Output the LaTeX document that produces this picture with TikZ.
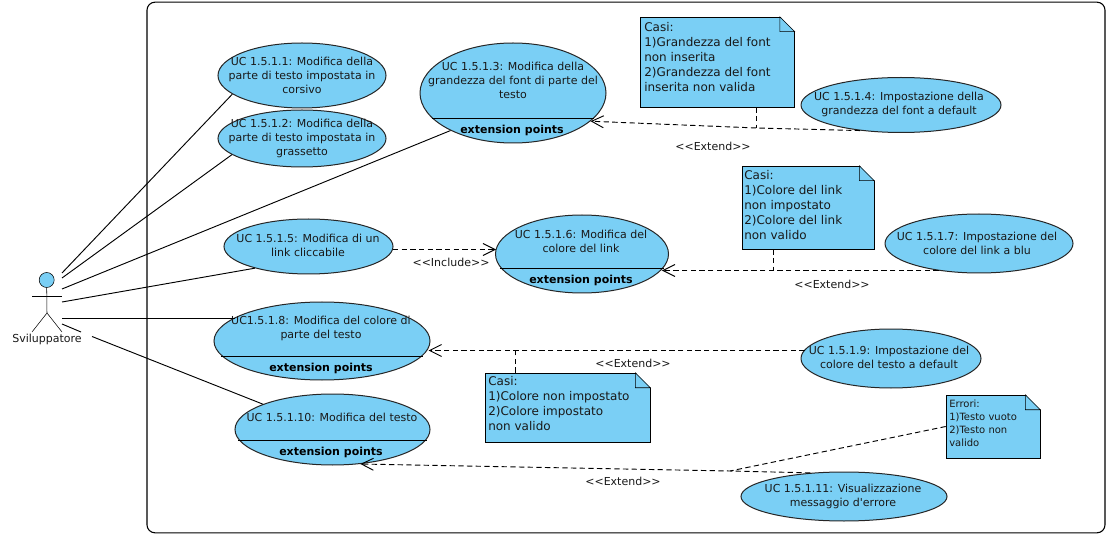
\documentclass[tikz,border=0pt]{standalone}
\usepackage{fontspec}
\setmainfont{DejaVu Sans}
\usetikzlibrary{shapes.geometric,arrows.meta}
\definecolor{ucblue}{RGB}{122,207,245}
\tikzset{
  x=0.75pt,y=-0.75pt,
  line width=0.75pt,
  uc/.style={ellipse,draw=black!85,fill=ucblue,inner sep=0pt,line width=0.75pt},
  uctext/.style={font=\fontsize{8.25}{10.5}\selectfont,align=center,inner sep=0pt,text=black!90},
  extpts/.style={font=\fontsize{8.25}{10.5}\selectfont\bfseries,inner sep=0pt},
  notebox/.style={draw=black,fill=ucblue,rectangle,inner sep=0pt},
  notetext/.style={font=\fontsize{9}{11.25}\selectfont,align=left,anchor=north west,inner sep=0pt,text=black!90},
  smallnotetext/.style={font=\fontsize{7.5}{9.75}\selectfont,align=left,anchor=north west,inner sep=0pt,text=black!90},
  rel/.style={font=\fontsize{8.25}{10.5}\selectfont,inner sep=0pt,text=black!90},
  assoc/.style={draw=black,line width=0.7pt},
  depline/.style={draw=black,dash pattern=on 4pt off 2.5pt,line width=0.7pt},
  opentip/.style={-{Straight Barb[length=9pt,width=9pt,line width=0.7pt]}},
}
\begin{document}
\begin{tikzpicture}
\useasboundingbox (0,0) rectangle (1110,538);
\fill[white] (0,0) rectangle (1110,538);
% system frame
\node[draw=black,rounded corners=6pt,minimum width=718.5pt,minimum height=398pt,inner sep=0pt,line width=0.8pt] (frame) at (626,267.5) {};
% actor
\node[circle,draw=black,fill=ucblue,minimum size=11.25pt,inner sep=0pt] (head) at (46.7,280) {};
\coordinate (neck) at (47,287.5);
\coordinate (hip) at (47,313);
\coordinate (armL) at (32,296);
\coordinate (armR) at (62,296);
\coordinate (footL) at (32,332);
\coordinate (footR) at (62,332);
\draw (head.south) -- (hip) -- (footL);
\draw (hip) -- (footR);
\draw (armL) -- (armR);
\node[uctext] (actorname) at (47,339) {Sviluppatore};
% compartment line levels
\coordinate (c3) at (513,118.5);
\coordinate (c6) at (582,268.5);
\coordinate (c8) at (322,356.5);
\coordinate (c10) at (332,440.5);
% use cases
\node[uc,minimum width=126pt,minimum height=48.75pt] (e1) at (302,75.5) {};
\node[uctext] (t1) at (302,75.5) {UC 1.5.1.1: Modifica della\\parte di testo impostata in\\corsivo};
\node[uc,minimum width=126pt,minimum height=42.75pt] (e2) at (302,138.5) {};
\node[uctext] (t2) at (302,138) {UC 1.5.1.2: Modifica della\\parte di testo impostata in\\grassetto};
\node[uc,minimum width=139.5pt,minimum height=75pt] (e3) at (513,93) {};
\node[uctext] (t3) at (513,80) {UC 1.5.1.3: Modifica della\\grandezza del font di parte del\\testo};
\draw (c3 -| e3.197.25) -- (c3 -| e3.-17.25);
\node[extpts] (x3) at (512,130) {extension points};
\node[uc,minimum width=150pt,minimum height=41.25pt] (e4) at (901,105) {};
\node[uctext] (t4) at (899,104) {UC 1.5.1.4: Impostazione della\\grandezza del font a default};
\node[uc,minimum width=126.75pt,minimum height=41.25pt] (e5) at (308.5,246.5) {};
\node[uctext] (t5) at (308,245) {UC 1.5.1.5: Modifica di un\\link cliccabile};
\node[uc,minimum width=129.75pt,minimum height=58.5pt] (e6) at (582,254) {};
\node[uctext] (t6) at (581,241) {UC 1.5.1.6: Modifica del\\colore del link};
\draw (c6 -| e6.189.84) -- (c6 -| e6.-9.84);
\node[extpts] (x6) at (581,280) {extension points};
\node[uc,minimum width=141pt,minimum height=44.25pt] (e7) at (979,243.5) {};
\node[uctext] (t7) at (977,243) {UC 1.5.1.7: Impostazione del\\colore del link a blu};
\node[uc,minimum width=162pt,minimum height=58.5pt] (e8) at (322,341) {};
\node[uctext] (t8) at (321,328) {UC1.5.1.8: Modifica del colore di\\parte del testo};
\draw (c8 -| e8.188.9) -- (c8 -| e8.-8.9);
\node[extpts] (x8) at (321,368) {extension points};
\node[uc,minimum width=135pt,minimum height=44.25pt] (e9) at (891,358.5) {};
\node[uctext] (t9) at (889,357) {UC 1.5.1.9: Impostazione del\\colore del testo a default};
\node[uc,minimum width=146.25pt,minimum height=53.25pt] (e10) at (332.5,429.5) {};
\node[uctext] (t10) at (332,417) {UC 1.5.1.10: Modifica del testo};
\draw (c10 -| e10.186.44) -- (c10 -| e10.-6.44);
\node[extpts] (x10) at (331,452) {extension points};
\node[uc,minimum width=154.5pt,minimum height=36.75pt] (e11) at (844,496.5) {};
\node[uctext] (t11) at (843,496) {UC 1.5.1.11: Visualizzazione\\messaggio d\textquotesingle errore};
% actor associations
\coordinate (a1) at (62,273);
\coordinate (a2) at (62,278);
\coordinate (a3) at (62,289);
\coordinate (a4) at (62,302);
\coordinate (a5) at (62,318.5);
\coordinate (a6) at (62,324);
\coordinate (gapa) at (81,332);
\coordinate (gapb) at (92,336.5);
\draw[assoc] (a1) -- (e1.195);
\draw[assoc] (a2) -- (e2.193.8);
\draw[assoc] (a3) -- (e3.211);
\draw[assoc] (a4) -- (e5.202);
\draw[assoc] (a5) -- (a5 -| e8.165.5);
\draw[assoc] (a6) -- (gapa);
\draw[assoc] (gapb) -- (e10.160.8);
% notes
\node[notebox,minimum width=115.5pt,minimum height=67.5pt] (n1) at (717.5,62) {};
\node[notebox,minimum width=99pt,minimum height=62.25pt] (n2) at (808,207.5) {};
\node[notebox,minimum width=123.75pt,minimum height=51.75pt] (n3) at (567.5,407.5) {};
\node[notebox,minimum width=70.5pt,minimum height=47.25pt] (n4) at (993,426.5) {};
\foreach \n in {n1,n2,n3,n4}{
  \fill[white] (\n.north east) ++(-15,-0.6) -- ++(15.6,0) -- ++(0,15.6) -- cycle;
  \draw (\n.north east) ++(-15,0) -- ++(15,15) -- ++(-15,0) -- cycle;
}
\node[notetext] (nt1) at (644,22) {Casi:\\1)Grandezza del font\\non inserita\\2)Grandezza del font\\inserita non valida};
\node[notetext] (nt2) at (744,170.5) {Casi:\\1)Colore del link\\non impostato\\2)Colore del link\\non valido};
\node[notetext] (nt3) at (488,376.5) {Casi:\\1)Colore non impostato\\2)Colore impostato\\non valido};
\node[smallnotetext] (nt4) at (949,399.5) {Errori:\\1)Testo vuoto\\2)Testo non\\valido};
% extend / include
\coordinate (j1) at (756.5,128);
\coordinate (j2) at (773,270.5);
\coordinate (j3) at (515.5,350.5);
\coordinate (j4) at (730,471);
\coordinate (inc) at (445,249.5);
\draw[depline,opentip] (e4.212) -- (j1) -- (e3.-20.2);
\draw[depline,opentip] (inc -| e5.-2) -- (inc -| e6.176.7);
\draw[depline,opentip] (j2 -| e7.214.2) -- (j2) -- (j2 -| e6.-11.6);
\draw[depline,opentip] (j3 -| e9.174.4) -- (j3) -- (j3 -| e8.-4.9);
\draw[depline,opentip] (e11.145.8) -- (j4) -- (e10.-51);
\draw[depline] (j1 |- n1.south) -- (j1);
\draw[depline] (j2 |- n2.south) -- (j2);
\draw[depline] (j3 |- n3.north) -- (j3);
\draw[depline] (n4.west) -- (j4);
% labels
\node[rel] (l1) at (713,146) {<{}<Extend>{}>};
\node[rel] (l2) at (451,262) {<{}<Include>{}>};
\node[rel] (l3) at (832,284) {<{}<Extend>{}>};
\node[rel] (l4) at (633,363) {<{}<Extend>{}>};
\node[rel] (l5) at (623,481) {<{}<Extend>{}>};
\end{tikzpicture}
\end{document}
